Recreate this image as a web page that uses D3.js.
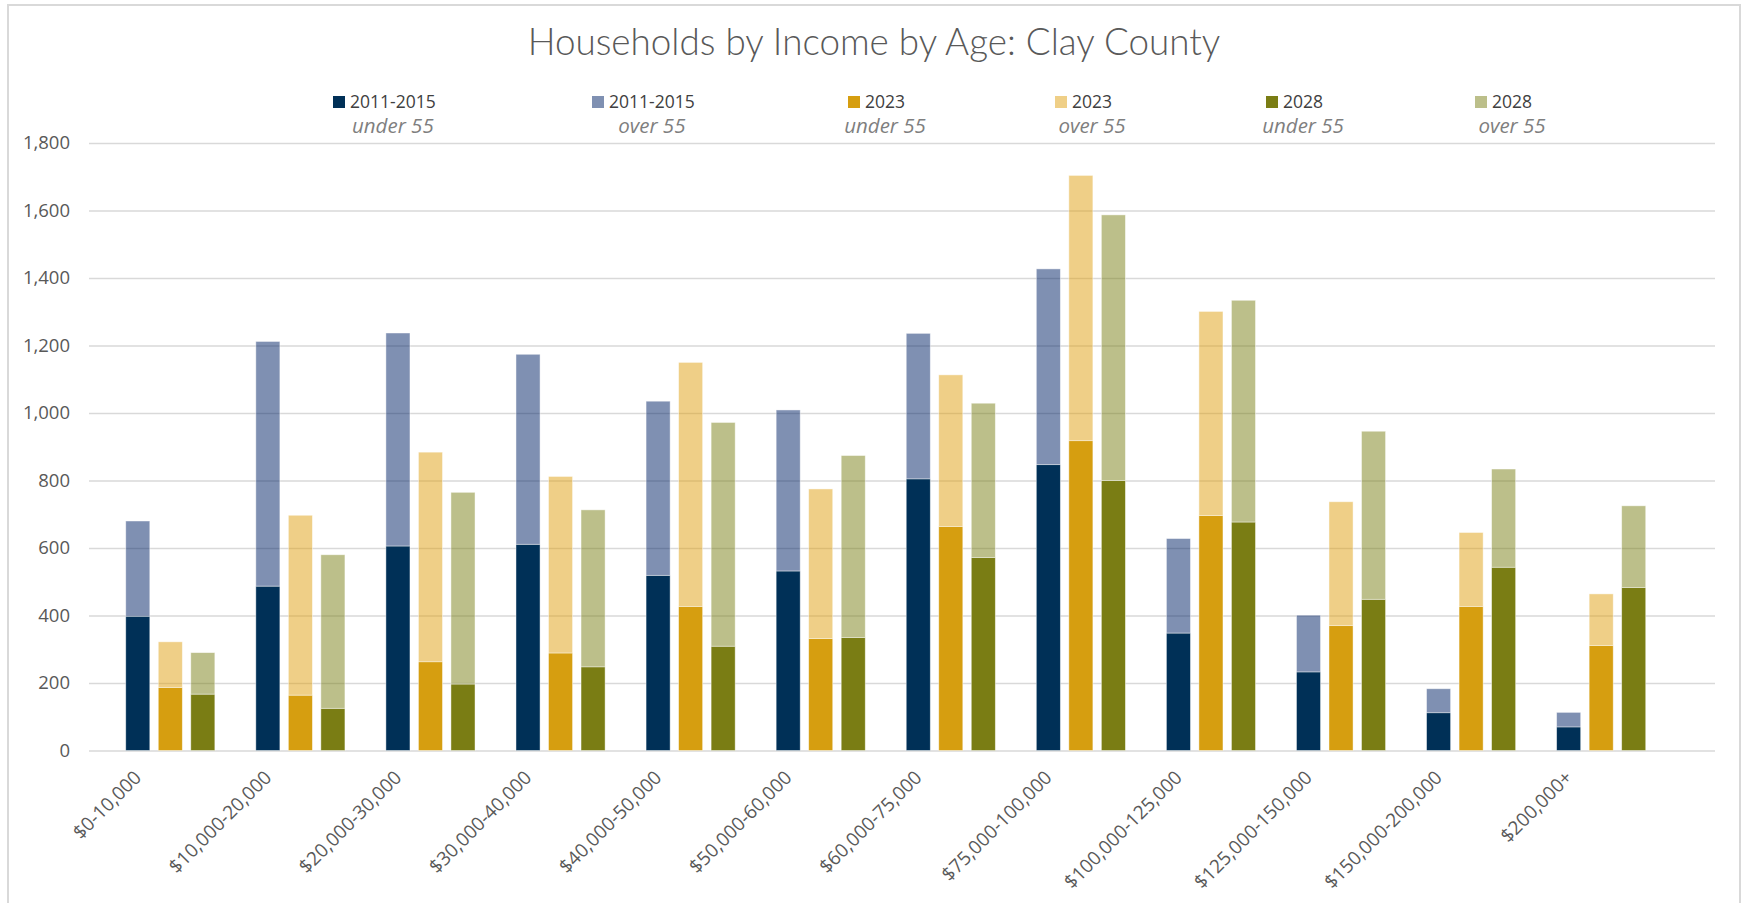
<!DOCTYPE html>
<html><head><meta charset="utf-8">
<script src="https://cdn.jsdelivr.net/npm/d3@7"></script>
<style>html,body{margin:0;padding:0;background:#fff;} svg{display:block;}</style>
</head><body>
<svg id="chart" width="1742" height="903"></svg>
<script>
// ---------- data ----------
const categories = ["$0-10,000","$10,000-20,000","$20,000-30,000","$30,000-40,000","$40,000-50,000","$50,000-60,000","$60,000-75,000","$75,000-100,000","$100,000-125,000","$125,000-150,000","$150,000-200,000","$200,000+"];
const periods = ["2011-2015","2023","2028"];
const ageGroups = ["under 55","over 55"];
const under55_2011_2015 = [398, 487, 606, 611, 519, 532, 805, 847, 348, 233, 112, 70];
const over55_2011_2015  = [282, 725, 631, 563, 516, 477, 431, 580, 280, 168, 71, 43];
const under55_2023      = [187, 164, 263, 289, 427, 332, 664, 918, 696, 370, 427, 311];
const over55_2023       = [135, 533, 621, 523, 723, 443, 449, 786, 605, 367, 219, 153];
const under55_2028      = [167, 125, 197, 248, 309, 335, 572, 800, 677, 448, 543, 483];
const over55_2028       = [123, 455, 568, 465, 663, 539, 457, 787, 657, 498, 291, 242];
const yTicks = [0,200,400,600,800,1000,1200,1400,1600,1800];
const title = "Households by Income by Age: Clay County";

// ---------- styles / layout ----------
const W = 1742, H = 903;
const plot = {left: 89, right: 1715, top: 143, bottom: 750.5};
const baseColors = {"2011-2015": "#003057", "2023": "#D69E10", "2028": "#7A7D14"};
const overColors = {"2011-2015": "#002266", "2023": "#DF9F0F", "2028": "#797F15"};
const overOpacity = 0.5;
const legendX = [333, 592, 848, 1055, 1266, 1475];
const FONT = "'Open Sans', 'Liberation Sans', sans-serif";

const seriesByPeriod = {
  "2011-2015": {under: under55_2011_2015, over: over55_2011_2015},
  "2023": {under: under55_2023, over: over55_2023},
  "2028": {under: under55_2028, over: over55_2028}
};

const svg = d3.select("#chart");
svg.append("rect").attr("x",8).attr("y",5).attr("width",1732).attr("height",H+10)
  .attr("fill","#fff").attr("stroke","#d9d9d9").attr("stroke-width",2);

// scales
const nSlots = 50;
const slot = (plot.right - plot.left) / nSlots;
const x0 = d3.scaleBand().domain(categories)
  .range([plot.left + slot, plot.left + slot * 49]).paddingInner(0).paddingOuter(0);
const x1 = d3.scaleBand().domain(periods)
  .range([0, slot * 3]).paddingInner(0.26).paddingOuter(0.13);
const y = d3.scaleLinear().domain([0, 1800]).range([plot.bottom, plot.top]);

// gridlines + y axis
const yAxis = d3.axisLeft(y).tickValues(yTicks).tickFormat(d3.format(","))
  .tickSize(-(plot.right - plot.left)).tickPadding(19);
const gy = svg.append("g").attr("transform", `translate(${plot.left},0)`).call(yAxis);
gy.select(".domain").remove();
gy.selectAll(".tick line").attr("stroke","#d9d9d9").attr("stroke-width",1.6);
gy.selectAll(".tick text").attr("fill","#595959").style("font-family",FONT).style("font-size","18.5px");

// bars
periods.forEach(p => {
  const table = categories.map((c,i) => ({cat: c, under: seriesByPeriod[p].under[i], over: seriesByPeriod[p].over[i]}));
  const stacked = d3.stack().keys(["under","over"])(table);
  const g = svg.append("g");
  stacked.forEach(layer => {
    g.selectAll(null).data(layer).join("rect")
      .attr("x", d => x0(d.data.cat) + x1(p))
      .attr("width", x1.bandwidth())
      .attr("y", d => y(d[1]))
      .attr("height", d => y(d[0]) - y(d[1]))
      .attr("fill", layer.key === "under" ? baseColors[p] : overColors[p])
      .attr("fill-opacity", layer.key === "under" ? 1 : overOpacity)
      .attr("stroke", "rgba(255,255,255,0.55)").attr("stroke-width", 0.8);
  });
});

// x labels
svg.append("g").selectAll("text").data(categories).join("text")
  .attr("transform", d => `translate(${x0(d) + x1(periods[0]) + x1.bandwidth()/2},774) rotate(-45)`)
  .attr("text-anchor","end").attr("dy","0.35em")
  .attr("fill","#595959").style("font-family",FONT).style("font-size","19px")
  .text(d => d);

// title
const t = svg.append("text").attr("x", 874).attr("y", 55).attr("text-anchor","middle")
  .attr("fill","#595959").style("font-family","Lato, 'Noto Sans', sans-serif").style("font-weight",300)
  .style("font-size","30px").text(title);
const tw = t.node().getComputedTextLength();
t.style("font-size", (30 * 693 / tw).toFixed(2) + "px");

// legend
const legendItems = [];
periods.forEach(p => ageGroups.forEach(a => legendItems.push({p, a})));
const lg = svg.append("g");
legendItems.forEach((it, i) => {
  const gx = legendX[i];
  const g = lg.append("g").attr("transform", `translate(${gx},0)`);
  g.append("rect").attr("x",0).attr("y",96).attr("width",12).attr("height",12)
    .attr("fill", it.a === "under 55" ? baseColors[it.p] : overColors[it.p])
    .attr("fill-opacity", it.a === "under 55" ? 1 : overOpacity);
  const t1 = g.append("text").attr("x",17).attr("y",102).attr("dy","0.35em")
    .attr("fill","#404040").style("font-family",FONT).style("font-size","17.5px").text(it.p);
  const w1 = t1.node().getComputedTextLength();
  g.append("text").attr("x",17 + w1/2).attr("y",126).attr("dy","0.35em").attr("text-anchor","middle")
    .attr("fill","#7f7f7f").style("font-family",FONT).style("font-style","italic").style("font-size","20.5px").text(it.a);
});
</script>
</body></html>
